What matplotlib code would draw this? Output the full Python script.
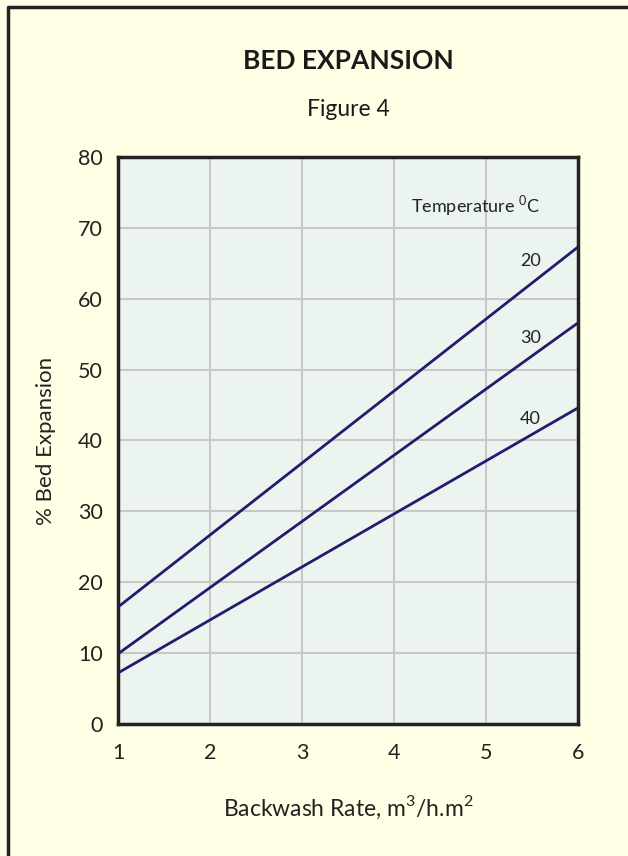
import matplotlib.pyplot as plt
from matplotlib.lines import Line2D

# data
rate = [1, 6]
temps = ['20', '30', '40']
expansion = {
	'20': [16.5, 67.3],
	'30': [9.9, 56.6],
	'40': [7.2, 44.6],
}
label_pos = {'20': (5.48, 65.3), '30': (5.48, 54.5), '40': (5.48, 43.1)}
xticks = [1, 2, 3, 4, 5, 6]
yticks = [0, 10, 20, 30, 40, 50, 60, 70, 80]

plt.rcParams['font.family'] = ['Lato', 'DejaVu Sans']
plt.rcParams['mathtext.fontset'] = 'custom'
plt.rcParams['mathtext.rm'] = 'Lato'

bg = '#FFFFE5'
fig = plt.figure(figsize=(6.28, 8.56), dpi=100, facecolor=bg)
ax = fig.add_axes([0.1879, 0.1542, 0.7325, 0.6624])
ax.set_facecolor('#EBF4EF')

for t in temps:
	ax.plot(rate, expansion[t], color='#261A6E', lw=2, solid_capstyle='butt', zorder=3)
	x, y = label_pos[t]
	ax.text(x, y, t, ha='center', va='center', fontsize=13, color='#222222')

ax.text(4.88, 73.1, r'Temperature $^{\mathregular{0}}$C', ha='center', va='center',
	fontsize=13, color='#222222')

ax.set_xlim(1, 6)
ax.set_ylim(0, 80)
ax.set_xticks(xticks)
ax.set_yticks(yticks)
ax.tick_params(axis='x', length=0, labelsize=15.5, pad=14, colors='#222222')
ax.tick_params(axis='y', length=0, labelsize=15.5, pad=11, colors='#222222')
ax.grid(True, color='#C8C8C8', lw=1.5)
ax.set_axisbelow(True)
for s in ax.spines.values():
	s.set_linewidth(2.5)
	s.set_color('#222222')

ax.set_ylabel('% Bed Expansion', fontsize=16, color='#222222', labelpad=16)
ax.set_xlabel(r'Backwash Rate, m$^{\mathregular{3}}$/h.m$^{\mathregular{2}}$', fontsize=16.5,
	color='#222222', labelpad=22)

# titles are centred over the plot area
cx = 348 / 628
fig.text(cx, 1 - 61 / 856, 'BED EXPANSION', ha='center', va='center', fontsize=19,
	fontweight='bold', color='#1A1A1A')
fig.text(cx, 1 - 110 / 856, 'Figure 4', ha='center', va='center', fontsize=16.5, color='#1A1A1A')

# frame on the left and top edges
fig.add_artist(Line2D([8 / 628, 8 / 628, 1], [0, 1 - 7 / 856, 1 - 7 / 856],
	transform=fig.transFigure, color='#222222', lw=2.5))

fig.savefig('out.png', dpi=100, facecolor=bg)
